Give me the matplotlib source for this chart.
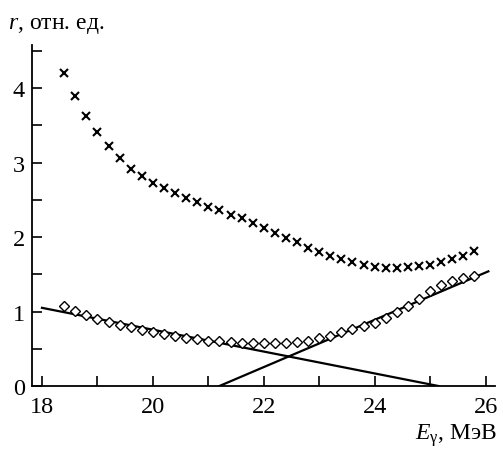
import matplotlib
matplotlib.use("Agg")
import matplotlib.pyplot as plt
from matplotlib.ticker import MultipleLocator

plt.rcParams['font.family'] = ['Liberation Serif', 'DejaVu Serif']
plt.rcParams['mathtext.fontset'] = 'custom'
plt.rcParams['mathtext.rm'] = 'Liberation Serif'
plt.rcParams['mathtext.it'] = 'Liberation Serif:italic'

# энергия, МэВ
energy = [18.4, 18.6, 18.8, 19.0, 19.2, 19.4, 19.6, 19.8, 20.0, 20.2,
          20.4, 20.6, 20.8, 21.0, 21.2, 21.4, 21.6, 21.8, 22.0, 22.2,
          22.4, 22.6, 22.8, 23.0, 23.2, 23.4, 23.6, 23.8, 24.0, 24.2,
          24.4, 24.6, 24.8, 25.0, 25.2, 25.4, 25.6, 25.8]

# крестики
r_cross = [4.21, 3.89, 3.62, 3.41, 3.22, 3.06, 2.92, 2.82, 2.72, 2.66,
           2.59, 2.52, 2.47, 2.41, 2.36, 2.30, 2.25, 2.19, 2.12, 2.06,
           1.99, 1.93, 1.86, 1.80, 1.75, 1.70, 1.66, 1.62, 1.60, 1.59,
           1.59, 1.60, 1.61, 1.63, 1.66, 1.70, 1.75, 1.82]

# ромбики
r_diam = [1.08, 1.01, 0.96, 0.90, 0.86, 0.82, 0.79, 0.75, 0.73, 0.70,
          0.67, 0.64, 0.63, 0.61, 0.60, 0.59, 0.58, 0.58, 0.58, 0.58,
          0.58, 0.59, 0.61, 0.64, 0.67, 0.72, 0.76, 0.80, 0.85, 0.91,
          0.99, 1.07, 1.17, 1.27, 1.35, 1.41, 1.45, 1.48]

# прямые
fall_x = [18.0, 25.15]
fall_y = [1.05, 0.0]
rise_x = [21.2, 26.05]
rise_y = [0.0, 1.54]

fig = plt.figure(figsize=(5.03, 4.52), dpi=100)
ax = fig.add_axes([0.0636, 0.1438, 0.9205, 0.7544])

ax.plot(energy, r_cross, linestyle='none', marker='x', color='black',
        markersize=5.5, markeredgewidth=1.5)
ax.plot(energy, r_diam, linestyle='none', marker='D', color='black',
        markersize=5, markerfacecolor='white', markeredgewidth=1.0, zorder=3)
ax.plot(fall_x, fall_y, color='black', linewidth=1.6, zorder=2)
ax.plot(rise_x, rise_y, color='black', linewidth=1.6, zorder=2)

ax.set_xlim(17.82, 26.17)
ax.set_ylim(0, 4.58)

ax.spines['top'].set_visible(False)
ax.spines['right'].set_visible(False)
ax.spines['left'].set_linewidth(1.3)
ax.spines['bottom'].set_linewidth(1.3)

ax.xaxis.set_major_locator(MultipleLocator(2))
ax.xaxis.set_minor_locator(MultipleLocator(1))
ax.yaxis.set_major_locator(MultipleLocator(1))
ax.yaxis.set_minor_locator(MultipleLocator(0.5))
ax.tick_params(which='both', direction='in', length=7, width=1.2,
               labelsize=17.5, pad=5)
ax.tick_params(axis='x', which='both', pad=7)

fig.text(0.015, 0.936, r'$r$, отн. ед.', fontsize=17, ha='left', va='baseline')
fig.text(0.988, 0.028, r'$E_\mathrm{γ}$, МэВ', fontsize=17, ha='right', va='baseline')

fig.savefig('out.png', dpi=100)
